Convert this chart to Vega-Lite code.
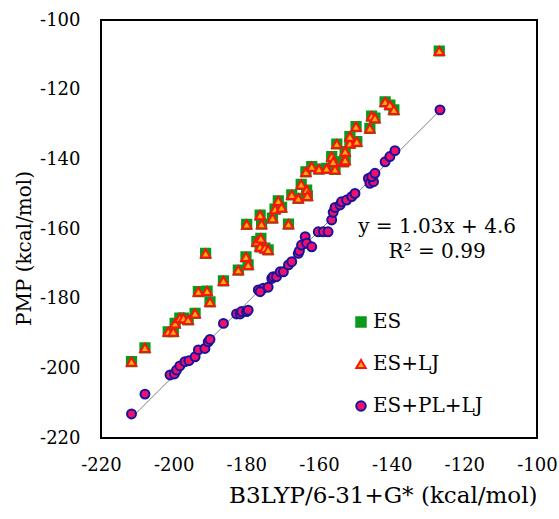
{
  "$schema": "https://vega.github.io/schema/vega-lite/v6.json",
  "width": 436,
  "height": 418,
  "autosize": {"type": "none"},
  "padding": {"left": 101, "top": 20, "right": 22, "bottom": 81},
  "background": "white",
  "config": {
    "view": {"stroke": "#000000", "strokeWidth": 2},
    "font": "DejaVu Serif",
    "axis": {"grid": false, "domain": false, "ticks": false, "tickSize": 0, "labelFlush": false, "labelFont": "DejaVu Serif", "labelFontSize": 18, "labelColor": "#000000", "labelExpr": "replace(datum.label, '−', '-')", "titleFont": "DejaVu Serif", "titleFontSize": 20, "titleFontWeight": "normal", "titleColor": "#000000"},
    "legend": {"labelFont": "DejaVu Serif"}
  },
  "datasets": {
    "pts": [
      {"series": "ES", "x": -211.6, "y": -198.1},
      {"series": "ES", "x": -207.9, "y": -194.1},
      {"series": "ES", "x": -201.5, "y": -189.5},
      {"series": "ES", "x": -200.1, "y": -189.5},
      {"series": "ES", "x": -199.6, "y": -187.1},
      {"series": "ES", "x": -198.3, "y": -185.6},
      {"series": "ES", "x": -197.3, "y": -185.6},
      {"series": "ES", "x": -196.0, "y": -186.1},
      {"series": "ES", "x": -194.1, "y": -184.2},
      {"series": "ES", "x": -190.0, "y": -180.9},
      {"series": "ES", "x": -193.2, "y": -178.0},
      {"series": "ES", "x": -190.8, "y": -177.8},
      {"series": "ES", "x": -186.3, "y": -174.9},
      {"series": "ES", "x": -182.2, "y": -171.8},
      {"series": "ES", "x": -180.1, "y": -168.0},
      {"series": "ES", "x": -179.5, "y": -170.3},
      {"series": "ES", "x": -191.2, "y": -167.0},
      {"series": "ES", "x": -179.9, "y": -158.7},
      {"series": "ES", "x": -177.1, "y": -163.6},
      {"series": "ES", "x": -176.0, "y": -162.7},
      {"series": "ES", "x": -176.2, "y": -165.1},
      {"series": "ES", "x": -174.9, "y": -165.5},
      {"series": "ES", "x": -174.0, "y": -166.0},
      {"series": "ES", "x": -175.8, "y": -158.6},
      {"series": "ES", "x": -172.8, "y": -156.9},
      {"series": "ES", "x": -176.2, "y": -156.0},
      {"series": "ES", "x": -168.4, "y": -158.6},
      {"series": "ES", "x": -172.1, "y": -154.3},
      {"series": "ES", "x": -171.2, "y": -151.9},
      {"series": "ES", "x": -170.3, "y": -153.8},
      {"series": "ES", "x": -167.5, "y": -150.2},
      {"series": "ES", "x": -165.7, "y": -151.2},
      {"series": "ES", "x": -164.9, "y": -147.2},
      {"series": "ES", "x": -163.4, "y": -148.8},
      {"series": "ES", "x": -163.2, "y": -150.5},
      {"series": "ES", "x": -163.6, "y": -143.6},
      {"series": "ES", "x": -162.0, "y": -142.1},
      {"series": "ES", "x": -160.0, "y": -142.8},
      {"series": "ES", "x": -157.9, "y": -142.6},
      {"series": "ES", "x": -155.6, "y": -142.9},
      {"series": "ES", "x": -156.5, "y": -139.2},
      {"series": "ES", "x": -156.1, "y": -140.7},
      {"series": "ES", "x": -153.3, "y": -140.7},
      {"series": "ES", "x": -155.1, "y": -135.6},
      {"series": "ES", "x": -152.8, "y": -137.8},
      {"series": "ES", "x": -152.8, "y": -140.2},
      {"series": "ES", "x": -151.5, "y": -135.4},
      {"series": "ES", "x": -151.5, "y": -133.5},
      {"series": "ES", "x": -149.6, "y": -134.9},
      {"series": "ES", "x": -149.8, "y": -130.6},
      {"series": "ES", "x": -146.0, "y": -131.1},
      {"series": "ES", "x": -145.5, "y": -127.6},
      {"series": "ES", "x": -144.6, "y": -128.2},
      {"series": "ES", "x": -141.8, "y": -123.5},
      {"series": "ES", "x": -140.5, "y": -124.4},
      {"series": "ES", "x": -139.4, "y": -125.8},
      {"series": "ES", "x": -126.9, "y": -108.9},
      {"series": "ES+LJ", "x": -211.6, "y": -198.1},
      {"series": "ES+LJ", "x": -207.9, "y": -194.1},
      {"series": "ES+LJ", "x": -201.5, "y": -189.5},
      {"series": "ES+LJ", "x": -200.1, "y": -189.5},
      {"series": "ES+LJ", "x": -199.6, "y": -187.1},
      {"series": "ES+LJ", "x": -198.3, "y": -185.6},
      {"series": "ES+LJ", "x": -197.3, "y": -185.6},
      {"series": "ES+LJ", "x": -196.0, "y": -186.1},
      {"series": "ES+LJ", "x": -194.1, "y": -184.2},
      {"series": "ES+LJ", "x": -190.0, "y": -180.9},
      {"series": "ES+LJ", "x": -193.2, "y": -178.0},
      {"series": "ES+LJ", "x": -190.8, "y": -177.8},
      {"series": "ES+LJ", "x": -186.3, "y": -174.9},
      {"series": "ES+LJ", "x": -182.2, "y": -171.8},
      {"series": "ES+LJ", "x": -180.1, "y": -168.0},
      {"series": "ES+LJ", "x": -179.5, "y": -170.3},
      {"series": "ES+LJ", "x": -191.2, "y": -167.0},
      {"series": "ES+LJ", "x": -179.9, "y": -158.7},
      {"series": "ES+LJ", "x": -177.1, "y": -163.6},
      {"series": "ES+LJ", "x": -176.0, "y": -162.7},
      {"series": "ES+LJ", "x": -176.2, "y": -165.1},
      {"series": "ES+LJ", "x": -174.9, "y": -165.5},
      {"series": "ES+LJ", "x": -174.0, "y": -166.0},
      {"series": "ES+LJ", "x": -175.8, "y": -158.6},
      {"series": "ES+LJ", "x": -172.8, "y": -156.9},
      {"series": "ES+LJ", "x": -176.2, "y": -156.0},
      {"series": "ES+LJ", "x": -168.4, "y": -158.6},
      {"series": "ES+LJ", "x": -172.1, "y": -154.3},
      {"series": "ES+LJ", "x": -171.2, "y": -151.9},
      {"series": "ES+LJ", "x": -170.3, "y": -153.8},
      {"series": "ES+LJ", "x": -167.5, "y": -150.2},
      {"series": "ES+LJ", "x": -165.7, "y": -151.2},
      {"series": "ES+LJ", "x": -164.9, "y": -147.2},
      {"series": "ES+LJ", "x": -163.4, "y": -148.8},
      {"series": "ES+LJ", "x": -163.2, "y": -150.5},
      {"series": "ES+LJ", "x": -163.6, "y": -143.6},
      {"series": "ES+LJ", "x": -162.0, "y": -142.1},
      {"series": "ES+LJ", "x": -160.0, "y": -142.8},
      {"series": "ES+LJ", "x": -157.9, "y": -142.6},
      {"series": "ES+LJ", "x": -155.6, "y": -142.9},
      {"series": "ES+LJ", "x": -156.5, "y": -139.2},
      {"series": "ES+LJ", "x": -156.1, "y": -140.7},
      {"series": "ES+LJ", "x": -153.3, "y": -140.7},
      {"series": "ES+LJ", "x": -155.1, "y": -135.6},
      {"series": "ES+LJ", "x": -152.8, "y": -137.8},
      {"series": "ES+LJ", "x": -152.8, "y": -140.2},
      {"series": "ES+LJ", "x": -151.5, "y": -135.4},
      {"series": "ES+LJ", "x": -151.5, "y": -133.5},
      {"series": "ES+LJ", "x": -149.6, "y": -134.9},
      {"series": "ES+LJ", "x": -149.8, "y": -130.6},
      {"series": "ES+LJ", "x": -146.0, "y": -131.1},
      {"series": "ES+LJ", "x": -145.5, "y": -127.6},
      {"series": "ES+LJ", "x": -144.6, "y": -128.2},
      {"series": "ES+LJ", "x": -141.8, "y": -123.5},
      {"series": "ES+LJ", "x": -140.5, "y": -124.4},
      {"series": "ES+LJ", "x": -139.4, "y": -125.8},
      {"series": "ES+LJ", "x": -126.9, "y": -108.9},
      {"series": "ES+PL+LJ", "x": -211.6, "y": -213.1},
      {"series": "ES+PL+LJ", "x": -207.9, "y": -207.4},
      {"series": "ES+PL+LJ", "x": -201.0, "y": -201.9},
      {"series": "ES+PL+LJ", "x": -199.8, "y": -201.6},
      {"series": "ES+PL+LJ", "x": -199.2, "y": -200.5},
      {"series": "ES+PL+LJ", "x": -198.3, "y": -199.3},
      {"series": "ES+PL+LJ", "x": -196.9, "y": -198.1},
      {"series": "ES+PL+LJ", "x": -195.8, "y": -197.8},
      {"series": "ES+PL+LJ", "x": -194.1, "y": -196.7},
      {"series": "ES+PL+LJ", "x": -193.2, "y": -194.7},
      {"series": "ES+PL+LJ", "x": -191.4, "y": -194.3},
      {"series": "ES+PL+LJ", "x": -190.5, "y": -192.4},
      {"series": "ES+PL+LJ", "x": -190.0, "y": -191.7},
      {"series": "ES+PL+LJ", "x": -186.3, "y": -187.1},
      {"series": "ES+PL+LJ", "x": -182.7, "y": -184.4},
      {"series": "ES+PL+LJ", "x": -181.7, "y": -184.4},
      {"series": "ES+PL+LJ", "x": -181.3, "y": -183.7},
      {"series": "ES+PL+LJ", "x": -179.9, "y": -183.7},
      {"series": "ES+PL+LJ", "x": -179.5, "y": -183.3},
      {"series": "ES+PL+LJ", "x": -176.7, "y": -177.5},
      {"series": "ES+PL+LJ", "x": -175.3, "y": -177.0},
      {"series": "ES+PL+LJ", "x": -174.0, "y": -176.7},
      {"series": "ES+PL+LJ", "x": -176.2, "y": -178.0},
      {"series": "ES+PL+LJ", "x": -173.0, "y": -174.2},
      {"series": "ES+PL+LJ", "x": -172.6, "y": -173.7},
      {"series": "ES+PL+LJ", "x": -171.7, "y": -173.7},
      {"series": "ES+PL+LJ", "x": -170.7, "y": -172.3},
      {"series": "ES+PL+LJ", "x": -169.8, "y": -172.3},
      {"series": "ES+PL+LJ", "x": -168.4, "y": -170.3},
      {"series": "ES+PL+LJ", "x": -167.5, "y": -169.4},
      {"series": "ES+PL+LJ", "x": -165.7, "y": -167.0},
      {"series": "ES+PL+LJ", "x": -165.4, "y": -166.3},
      {"series": "ES+PL+LJ", "x": -164.8, "y": -164.6},
      {"series": "ES+PL+LJ", "x": -163.8, "y": -162.2},
      {"series": "ES+PL+LJ", "x": -163.4, "y": -164.1},
      {"series": "ES+PL+LJ", "x": -162.0, "y": -165.1},
      {"series": "ES+PL+LJ", "x": -160.2, "y": -160.8},
      {"series": "ES+PL+LJ", "x": -158.8, "y": -160.8},
      {"series": "ES+PL+LJ", "x": -157.5, "y": -160.8},
      {"series": "ES+PL+LJ", "x": -156.5, "y": -157.4},
      {"series": "ES+PL+LJ", "x": -156.1, "y": -155.2},
      {"series": "ES+PL+LJ", "x": -155.6, "y": -153.8},
      {"series": "ES+PL+LJ", "x": -154.2, "y": -153.1},
      {"series": "ES+PL+LJ", "x": -153.8, "y": -152.2},
      {"series": "ES+PL+LJ", "x": -152.4, "y": -151.7},
      {"series": "ES+PL+LJ", "x": -151.0, "y": -150.7},
      {"series": "ES+PL+LJ", "x": -150.1, "y": -149.8},
      {"series": "ES+PL+LJ", "x": -146.4, "y": -145.5},
      {"series": "ES+PL+LJ", "x": -146.0, "y": -146.9},
      {"series": "ES+PL+LJ", "x": -145.0, "y": -146.4},
      {"series": "ES+PL+LJ", "x": -145.5, "y": -145.0},
      {"series": "ES+PL+LJ", "x": -144.6, "y": -144.0},
      {"series": "ES+PL+LJ", "x": -141.8, "y": -140.7},
      {"series": "ES+PL+LJ", "x": -140.5, "y": -139.2},
      {"series": "ES+PL+LJ", "x": -139.1, "y": -137.5},
      {"series": "ES+PL+LJ", "x": -126.7, "y": -125.8}
    ],
    "notes": [
      {"label": "y = 1.03x + 4.6", "x": -127.5, "y": -159.4},
      {"label": "R² = 0.99", "x": -127.5, "y": -166.6}
    ]
  },
  "layer": [
    {
      "data": {"name": "pts"},
      "transform": [
        {"filter": "datum.series === 'ES+PL+LJ'"},
        {"regression": "y", "on": "x", "extent": [-212, -126.7]}
      ],
      "mark": {"type": "line", "color": "#808080", "strokeWidth": 1},
      "encoding": {
        "x": {"field": "x", "type": "quantitative", "title": "B3LYP/6-31+G* (kcal/mol)",
              "scale": {"domain": [-220, -100], "nice": false, "zero": false},
              "axis": {"values": [-220, -200, -180, -160, -140, -120, -100], "labelPadding": 18, "titlePadding": 10, "titleFontSize": 23, "titleAnchor": "end"}},
        "y": {"field": "y", "type": "quantitative", "title": "PMP (kcal/mol)",
              "scale": {"domain": [-220, -100], "nice": false, "zero": false},
              "axis": {"values": [-220, -200, -180, -160, -140, -120, -100], "labelPadding": 21, "titlePadding": 5, "titleY": 228}}
      }
    },
    {
      "data": {"name": "pts"},
      "transform": [{"filter": "datum.series === 'ES'"}],
      "mark": {"type": "point", "filled": true, "strokeWidth": 2, "opacity": 1, "size": 85},
      "encoding": {
        "x": {"field": "x", "type": "quantitative"},
        "y": {"field": "y", "type": "quantitative"},
        "shape": {"field": "series", "type": "nominal", "title": null,
                  "scale": {"domain": ["ES", "ES+LJ", "ES+PL+LJ"], "range": ["square", "triangle-up", "circle"]},
                  "legend": {"orient": "none", "legendX": 250, "legendY": 292, "padding": 0, "labelFontSize": 20, "labelColor": "#000000", "symbolSize": 90, "symbolStrokeWidth": 2, "rowPadding": 22, "labelOffset": 2}},
        "fill": {"field": "series", "type": "nominal", "title": null,
                 "scale": {"domain": ["ES", "ES+LJ", "ES+PL+LJ"], "range": ["#0A9A1A", "#FFB000", "#F0106A"]}},
        "stroke": {"field": "series", "type": "nominal", "title": null,
                   "scale": {"domain": ["ES", "ES+LJ", "ES+PL+LJ"], "range": ["#0A9A1A", "#FF1010", "#1414A0"]}}
      }
    },
    {
      "data": {"name": "pts"},
      "transform": [{"filter": "datum.series === 'ES+LJ'"}],
      "mark": {"type": "point", "filled": true, "strokeWidth": 2, "opacity": 1, "size": 90},
      "encoding": {
        "x": {"field": "x", "type": "quantitative"},
        "y": {"field": "y", "type": "quantitative"},
        "shape": {"field": "series", "type": "nominal", "title": null},
        "fill": {"field": "series", "type": "nominal", "title": null},
        "stroke": {"field": "series", "type": "nominal", "title": null}
      }
    },
    {
      "data": {"name": "pts"},
      "transform": [{"filter": "datum.series === 'ES+PL+LJ'"}],
      "mark": {"type": "point", "filled": true, "strokeWidth": 2, "opacity": 1, "size": 80},
      "encoding": {
        "x": {"field": "x", "type": "quantitative"},
        "y": {"field": "y", "type": "quantitative"},
        "shape": {"field": "series", "type": "nominal", "title": null},
        "fill": {"field": "series", "type": "nominal", "title": null},
        "stroke": {"field": "series", "type": "nominal", "title": null}
      }
    },
    {
      "data": {"name": "notes"},
      "mark": {"type": "text", "fontSize": 20, "color": "#000000", "align": "center", "baseline": "middle"},
      "encoding": {
        "x": {"field": "x", "type": "quantitative"},
        "y": {"field": "y", "type": "quantitative"},
        "text": {"field": "label", "type": "nominal"}
      }
    }
  ]
}
